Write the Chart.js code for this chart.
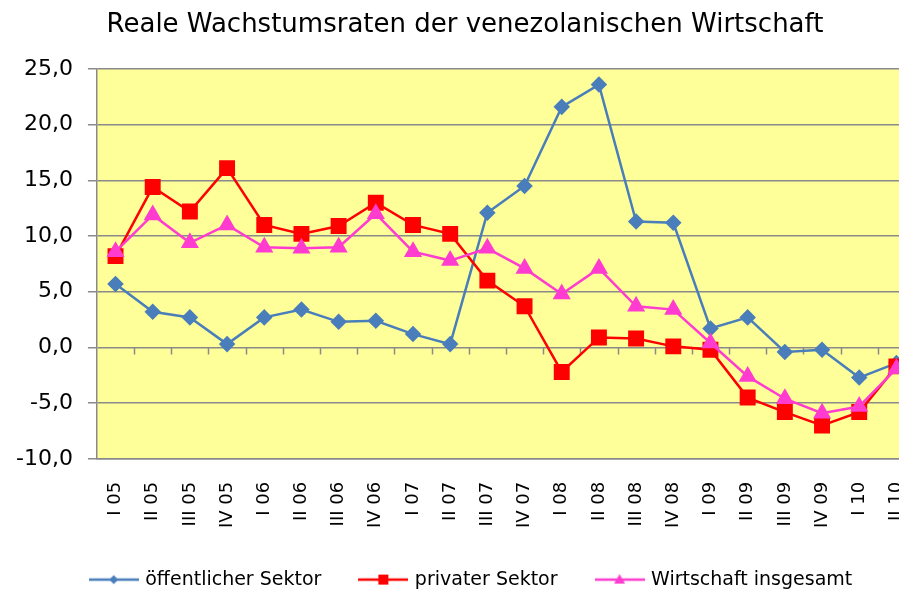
<!DOCTYPE html>
<html>
<head>
<meta charset="utf-8">
<script src="https://cdn.jsdelivr.net/npm/chart.js@4.4.1/dist/chart.umd.min.js"></script>
<style>
  html, body { margin: 0; padding: 0; background: #fff; overflow: hidden; }
  canvas { display: block; }
</style>
</head>
<body>
<canvas id="wachstum" width="930" height="600"></canvas>
<script>
// Daten
const quartale = ['I 05', 'II 05', 'III 05', 'IV 05', 'I 06', 'II 06', 'III 06', 'IV 06',
  'I 07', 'II 07', 'III 07', 'IV 07', 'I 08', 'II 08', 'III 08', 'IV 08',
  'I 09', 'II 09', 'III 09', 'IV 09', 'I 10', 'II 10'];
const oeffentlich = [5.7, 3.2, 2.7, 0.3, 2.7, 3.4, 2.3, 2.4, 1.2, 0.3, 12.1, 14.5,
  21.6, 23.6, 11.3, 11.2, 1.7, 2.7, -0.4, -0.2, -2.7, -1.4];
const privat = [8.2, 14.4, 12.2, 16.1, 11.0, 10.2, 10.9, 13.0, 11.0, 10.2, 6.0, 3.7,
  -2.2, 0.9, 0.8, 0.1, -0.2, -4.5, -5.8, -7.0, -5.8, -1.7];
const insgesamt = [8.6, 11.9, 9.4, 11.0, 9.0, 8.9, 9.0, 12.0, 8.6, 7.8, 8.9, 7.1,
  4.8, 7.1, 3.7, 3.4, 0.4, -2.6, -4.6, -5.9, -5.3, -1.9];
const yTicks = [-10, -5, 0, 5, 10, 15, 20, 25];

const BLAU = '#4a7ebb';
const ROT = '#ff0000';
const PINK = '#ff3ccf';
const GITTER = '#8a8a8a';
const SCHRIFT = 'DejaVu Sans, Liberation Sans, Arial';

// kleines Bild fuer die Legende: Linie mit Marker
function legendenBild(farbe, stil) {
  const c = document.createElement('canvas');
  c.width = 50; c.height = 16;
  const g = c.getContext('2d');
  g.strokeStyle = farbe; g.fillStyle = farbe; g.lineWidth = 2.5;
  g.beginPath(); g.moveTo(0, 8); g.lineTo(50, 8); g.stroke();
  g.beginPath();
  if (stil === 'rectRot') {
    g.moveTo(25, 3.5); g.lineTo(29.5, 8); g.lineTo(25, 12.5); g.lineTo(20.5, 8);
  } else if (stil === 'rect') {
    g.rect(20, 3, 10, 10);
  } else {
    g.moveTo(25, 2.5); g.lineTo(30.5, 12); g.lineTo(19.5, 12);
  }
  g.closePath(); g.fill();
  return c;
}

// gelber Hintergrund der Zeichenflaeche und Teilstriche an der Nulllinie
const zeichenflaeche = {
  id: 'zeichenflaeche',
  afterLayout(chart) {
    // Legende und Titel etwas nach rechts, wie im Original
    chart.legend.left += 14;
    chart.legend.right += 14;
    chart.titleBlock.left += 7;
    chart.titleBlock.right += 7;
  },
  beforeDraw(chart) {
    const { ctx, chartArea: a } = chart;
    ctx.save();
    ctx.fillStyle = '#ffff99';
    ctx.fillRect(a.left, a.top, a.right - a.left, a.bottom - a.top);
    ctx.restore();
  },
  beforeDatasetsDraw(chart) {
    const { ctx, scales: { x, y } } = chart;
    const y0 = y.getPixelForValue(0);
    const halb = (x.getPixelForValue(1) - x.getPixelForValue(0)) / 2;
    ctx.save();
    ctx.strokeStyle = GITTER;
    ctx.lineWidth = 1.5;
    ctx.beginPath();
    for (let i = 1; i < quartale.length; i++) {
      const px = Math.round(x.getPixelForValue(i) - halb) + 0.5;
      ctx.moveTo(px, y0);
      ctx.lineTo(px, y0 + 7);
    }
    ctx.stroke();
    ctx.restore();
  }
};

const ctx = document.getElementById('wachstum').getContext('2d');

new Chart(ctx, {
  type: 'line',
  data: {
    labels: quartale,
    datasets: [
      { label: 'öffentlicher Sektor', data: oeffentlich, borderColor: BLAU, backgroundColor: BLAU,
        borderWidth: 2.5, pointStyle: 'rectRot', pointRadius: 6.5, order: 2 },
      { label: 'privater Sektor', data: privat, borderColor: ROT, backgroundColor: ROT,
        borderWidth: 2.5, pointStyle: 'rect', pointRadius: 9.5, order: 1 },
      { label: 'Wirtschaft insgesamt', data: insgesamt, borderColor: PINK, backgroundColor: PINK,
        borderWidth: 2.5, pointStyle: 'triangle', pointRadius: 8, order: 0 }
    ]
  },
  options: {
    responsive: false,
    animation: false,
    devicePixelRatio: 1,
    layout: { padding: { left: 1, right: 15, top: 0, bottom: 0.9 } },
    elements: { line: { tension: 0 }, point: { borderWidth: 0, hoverRadius: 8 } },
    scales: {
      x: {
        offset: true,
        // Teilstriche unsichtbar, dienen nur als Abstand zu den Beschriftungen
        grid: { display: false, drawTicks: true, tickLength: 21, offset: true },
        border: { display: true, color: GITTER, width: 1.5 },
        ticks: {
          autoSkip: false, minRotation: 90, maxRotation: 90, padding: 2,
          color: '#000', font: { family: SCHRIFT, size: 18 }
        }
      },
      y: {
        min: -10, max: 25,
        afterBuildTicks(scale) { scale.ticks = yTicks.map(v => ({ value: v })); },
        grid: { color: GITTER, lineWidth: 1.5, tickLength: 9, drawTicks: true },
        border: { display: true, color: GITTER, width: 1.5 },
        ticks: {
          padding: 15, color: '#000',
          font: { family: SCHRIFT, size: 22 },
          callback: v => v.toFixed(1).replace('.', ',')
        }
      }
    },
    plugins: {
      title: {
        display: true,
        text: 'Reale Wachstumsraten der venezolanischen Wirtschaft',
        color: '#000',
        font: { family: SCHRIFT, size: 26, weight: 'normal' },
        padding: { top: 10, bottom: 27.8 }
      },
      legend: {
        position: 'bottom',
        labels: {
          usePointStyle: true,
          pointStyleWidth: 44,
          boxHeight: 16,
          padding: 40,
          color: '#000',
          font: { family: SCHRIFT, size: 19 },
          generateLabels(chart) {
            const stile = ['rectRot', 'rect', 'triangle'];
            return chart.data.datasets.map((ds, i) => ({
              text: ds.label,
              pointStyle: legendenBild(ds.borderColor, stile[i]),
              fillStyle: ds.borderColor,
              strokeStyle: ds.borderColor,
              lineWidth: 0,
              fontColor: '#000',
              hidden: false,
              datasetIndex: i
            }));
          }
        }
      },
      tooltip: { enabled: false }
    }
  },
  plugins: [zeichenflaeche]
});
</script>
</body>
</html>
